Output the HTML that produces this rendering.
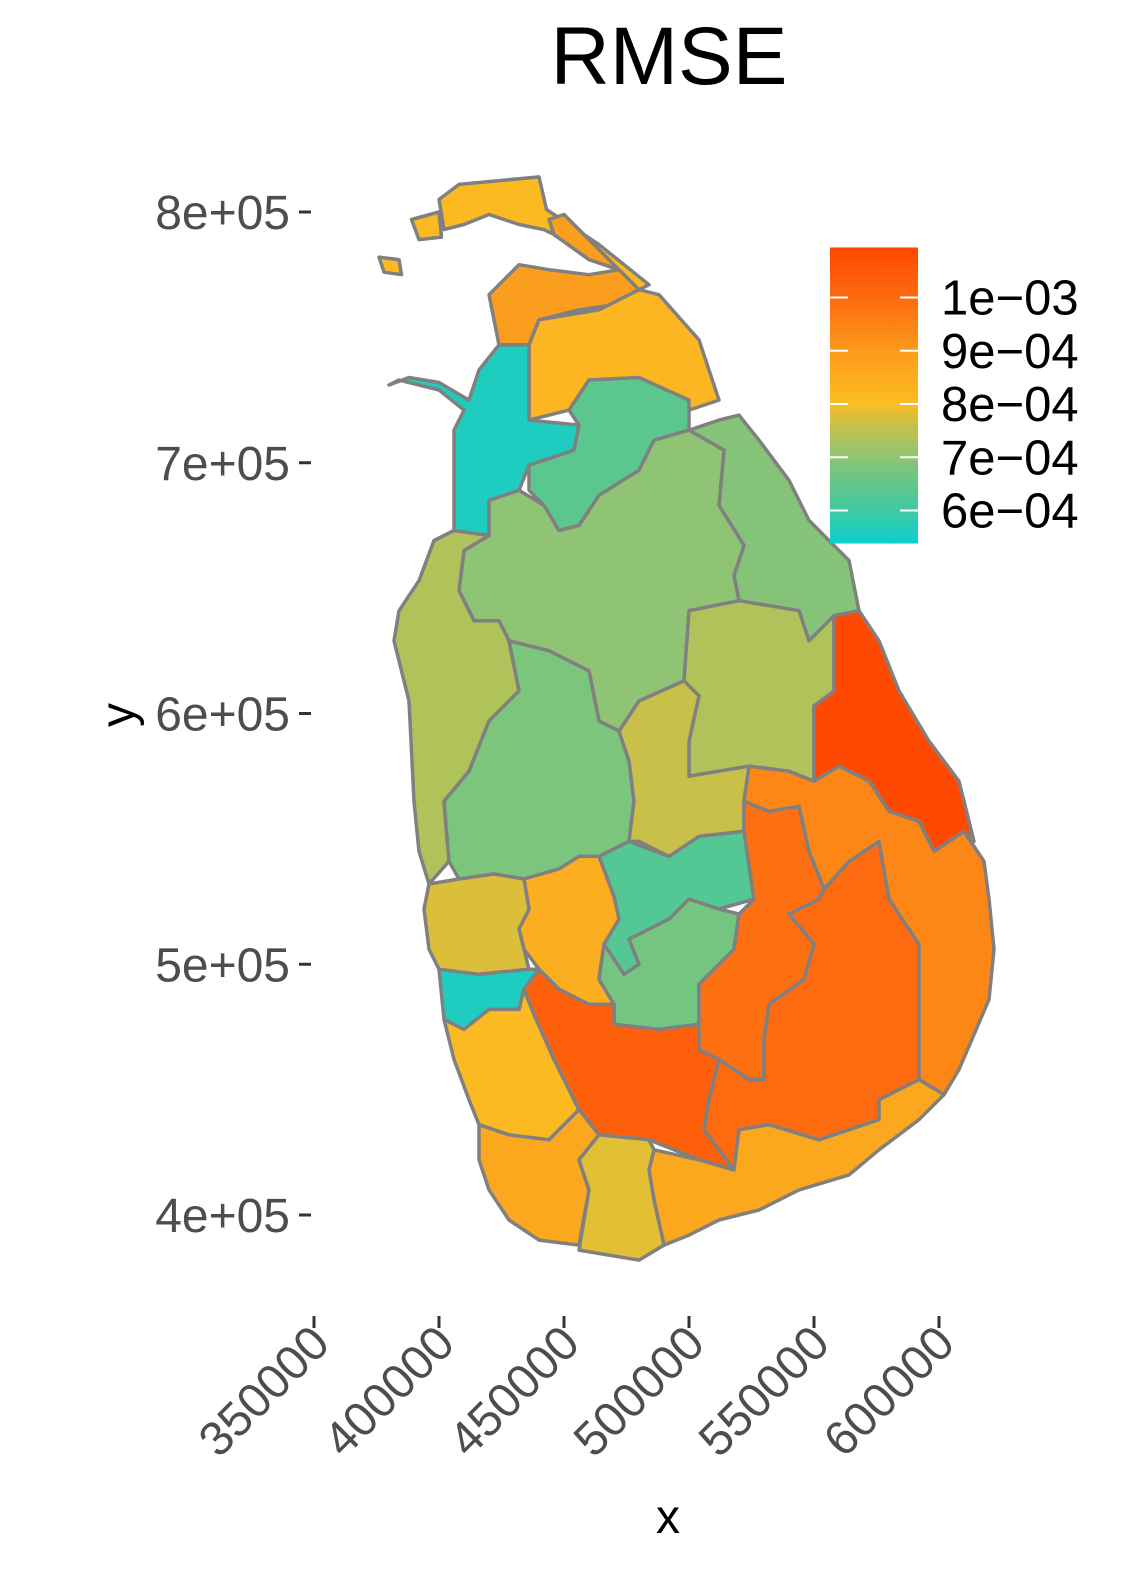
<!DOCTYPE html>
<html><head><meta charset="utf-8"><style>
html,body{margin:0;padding:0;background:#fff;}
svg{display:block;font-family:"Liberation Sans",Arial,sans-serif;}
</style></head><body>
<svg id="chart" width="1125" height="1575" viewBox="0 0 1125 1575" xmlns="http://www.w3.org/2000/svg">
<defs>
<linearGradient id="lg" x1="0" y1="1" x2="0" y2="0">
<stop id="s0" offset="0" stop-color="#0ccfcf"/>
</linearGradient>
</defs>
<text x="669" y="84" font-size="82" text-anchor="middle" fill="#000">RMSE</text>
<g id="map"></g>
<g id="yaxis"></g>
<g id="xaxis"></g>
<text x="0" y="0" font-size="48" text-anchor="middle" transform="translate(134,715) rotate(-90)" fill="#000">y</text>
<text x="668" y="1533" font-size="48" text-anchor="middle" fill="#000">x</text>
<g id="legend"></g>
</svg>
<script>
// district names
const districts = ["Jaffna","Kilinochchi","Mullaitivu","Mannar","Vavuniya","Trincomalee","Anuradhapura","Polonnaruwa","Batticaloa","Puttalam","Kurunegala","Matale","Kandy","Kegalle","Gampaha","Colombo","NuwaraEliya","Kalutara","Ratnapura","Badulla","Monaragala","Ampara","Hambantota","Galle","Matara","JaffnaIslandA","JaffnaIslandB","KilinochchiLagoon"];
// RMSE values (x 1e-4)
const rmse = [8.1,8.9,8.2,5.6,6.4,6.9,7.0,7.35,10.9,7.35,6.8,7.6,6.3,8.4,7.75,5.6,6.7,8.1,10.3,9.9,10.0,9.4,8.6,8.6,7.8,8.1,8.1,8.9];
// boundaries in km (easting,northing)
const shapes = [
"400,805 408,811 440,814 443,801 464,787 484,771 480,769 472,777 460,781 446,791 442,793 432,795 420,799 410,795 402,793",
"420,767 432,779 444,777 460,775 472,777 480,769 470,763 456,761 440,757 436,747 424,747",
"436,747 440,757 464,761 480,769 488,767 504,749 512,725 500,721 488,725 480,733 460,733 452,721 436,717",
"424,747 436,747 436,717 456,715 454,705 436,699 432,689 420,685 420,671 406,673 406,713 410,721 400,729 384,733 380,731 388,734 400,732 412,725 416,737",
"460,733 480,734 500,725 500,713 486,709 480,697 464,687 456,675 448,673 442,683 436,689 436,699 454,705 456,715 452,721",
"500,713 512,717 520,719 528,709 540,693 548,677 556,669 564,661 568,641 558,639 548,629 544,641 520,645 518,655 522,667 512,683 514,705",
"420,685 432,689 442,683 448,673 456,675 464,687 480,697 486,709 500,713 514,705 512,683 522,667 518,655 520,645 500,641 498,613 480,605 472,593 464,597 460,617 444,625 428,629 424,637 414,637 408,649 410,665 420,671",
"500,641 520,645 544,641 548,629 558,639 558,609 550,603 550,573 540,577 524,579 512,577 500,575 500,589 504,607 498,613",
"558,639 568,641 576,629 584,609 596,589 608,573 614,549 610,553 598,545 592,557 580,561 572,573 560,579 550,573 550,603 558,609",
"406,673 420,671 410,665 408,649 414,637 424,637 428,629 432,609 420,597 412,577 402,565 404,541 396,532 392,545 390,565 388,605 382,629 384,641 392,653 398,669",
"428,629 444,625 460,617 464,597 472,593 476,581 478,565 476,549 464,543 456,543 448,538 434,534 422,536 408,534 404,541 402,565 412,577 420,597 432,609",
"472,593 480,605 498,613 504,607 500,589 500,575 524,579 522,565 522,553 504,551 492,543 480,549 476,549 478,565 476,581",
"464,543 476,549 492,543 504,551 522,553 526,526 512,522 500,526 492,518 476,510 480,500 474,496 466,508 472,518 470,527",
"434,534 448,538 456,543 464,543 470,527 472,518 466,508 464,494 470,484 460,484 448,490 440,498 434,506 432,514 436,522",
"396,532 408,534 422,536 434,534 436,522 432,514 434,506 436,498 416,496 400,498 396,506 394,522",
"400,498 416,496 436,498 440,498 434,490 432,482 420,482 410,474 402,478",
"466,508 474,496 480,500 476,510 492,518 500,526 512,522 520,520 518,506 504,492 504,476 488,474 470,476 470,484 464,494",
"402,478 410,474 420,482 432,482 434,490 438,480 446,462 456,442 448,434 444,430 428,432 416,436 412,446 406,462",
"434,490 440,498 448,490 460,484 470,484 470,476 488,474 504,476 504,466 512,462 508,446 506,434 518,418 504,422 484,430 464,432 456,442 446,462 438,480",
"520,520 526,526 522,553 522,565 532,561 544,563 548,545 554,530 552,526 540,520 550,508 546,494 532,484 530,470 530,454 524,454 512,462 504,466 504,476 504,492 518,506",
"554,530 564,541 576,549 580,526 592,508 592,454 576,446 576,438 552,430 532,436 520,434 518,418 506,434 508,446 512,462 524,454 530,454 530,470 532,484 546,494 550,508 540,520 552,526",
"524,579 540,577 550,573 560,579 572,573 580,561 592,557 598,545 610,553 618,541 620,526 622,506 620,486 608,458 602,448 592,454 592,508 580,526 576,549 564,541 554,530 548,545 544,563 532,561 522,565",
"486,426 504,422 518,418 520,434 532,436 552,430 576,438 576,446 592,454 602,448 592,438 576,426 564,416 544,410 528,402 512,398 500,392 490,388 486,406 484,418",
"416,436 428,432 444,430 448,434 456,442 464,432 456,422 460,410 456,388 440,390 428,398 420,410 416,422",
"464,432 484,430 486,426 484,418 486,406 490,388 480,382 468,384 456,386 460,410 456,422",
"376,782 384,781 385,775 378,776",
"389,797 400,800 401,790 392,789",
"444,797 450,799 464,785 472,777 460,781 446,791"
];
// axis ticks
const yTicks = [400000,500000,600000,700000,800000];
const yTickLabels = ["4e+05","5e+05","6e+05","7e+05","8e+05"];
const xTicks = [350000,400000,450000,500000,550000,600000];
const xTickLabels = ["350000","400000","450000","500000","550000","600000"];
const legendTicks = [6,7,8,9,10];
const legendLabels = ["6e\u221204","7e\u221204","8e\u221204","9e\u221204","1e\u221203"];
const colorStopValues = [5.38,6.0,6.5,7.0,7.6,8.0,9.0,10.0,10.94];
const colorStopColors = ["#0ccfcf","#3fcaa2","#62c68a","#8ec473","#c8c048","#fbbd22","#fc9a1c","#fd6a10","#ff4800"];

const NS="http://www.w3.org/2000/svg";
const X = v => 314 + (v-350000)/100000*250;
const Y = v => 212 + (800000-v)/100000*250.75;
const LY = v => 297.5 + (10-v)*53.25;
function hex(c){return [1,3,5].map(i=>parseInt(c.substr(i,2),16));}
function color(v){
  const s=colorStopValues;
  if(v<=s[0])return colorStopColors[0];
  for(let i=1;i<s.length;i++){ if(v<=s[i]){const t=(v-s[i-1])/(s[i]-s[i-1]);const a=hex(colorStopColors[i-1]),b=hex(colorStopColors[i]);return "rgb("+a.map((x,k)=>Math.round(x+(b[k]-x)*t)).join(",")+")";}}
  return colorStopColors[colorStopColors.length-1];
}
const map=document.getElementById('map');
shapes.forEach((s,i)=>{
  const pts=s.split(" ").map(p=>{const [a,b]=p.split(",").map(Number);return X(a*1000).toFixed(1)+","+Y(b*1000).toFixed(1);}).join(" ");
  const el=document.createElementNS(NS,'polygon');
  el.setAttribute('points',pts);
  el.setAttribute('fill',color(rmse[i]));
  el.setAttribute('stroke','#808080');
  el.setAttribute('stroke-width','3.5');
  el.setAttribute('stroke-linejoin','round');
  
  
  map.appendChild(el);
});
const ya=document.getElementById('yaxis');
yTicks.forEach((v,i)=>{
  const l=document.createElementNS(NS,'line');
  l.setAttribute('x1',299);l.setAttribute('x2',311);l.setAttribute('y1',Y(v));l.setAttribute('y2',Y(v));
  l.setAttribute('stroke','#333');l.setAttribute('stroke-width','3');
  
  
  ya.appendChild(l);
  const t=document.createElementNS(NS,'text');
  t.setAttribute('x',290);t.setAttribute('y',Y(v)+17);t.setAttribute('text-anchor','end');
  t.setAttribute('font-size','48');t.setAttribute('fill','#4d4d4d');
  t.textContent=yTickLabels[i];
  
  
  ya.appendChild(t);
});
const xa=document.getElementById('xaxis');
xTicks.forEach((v,i)=>{
  const l=document.createElementNS(NS,'line');
  l.setAttribute('x1',X(v));l.setAttribute('x2',X(v));l.setAttribute('y1',1316);l.setAttribute('y2',1328);
  l.setAttribute('stroke','#333');l.setAttribute('stroke-width','3');
  
  
  xa.appendChild(l);
  const t=document.createElementNS(NS,'text');
  t.setAttribute('text-anchor','end');t.setAttribute('font-size','48');t.setAttribute('fill','#4d4d4d');
  t.setAttribute('transform','translate('+(X(v)+18)+',1346) rotate(-45)');
  t.textContent=xTickLabels[i];
  
  
  xa.appendChild(t);
});
// legend gradient
const g=document.getElementById('lg');g.innerHTML='';
const vmin=colorStopValues[0],vmax=colorStopValues[colorStopValues.length-1];
colorStopValues.forEach((v,i)=>{const s=document.createElementNS(NS,'stop');s.setAttribute('offset',(v-vmin)/(vmax-vmin));s.setAttribute('stop-color',colorStopColors[i]);g.appendChild(s);});
const lg=document.getElementById('legend');
const r=document.createElementNS(NS,'rect');
r.setAttribute('x',830);r.setAttribute('y',LY(vmax));r.setAttribute('width',88);r.setAttribute('height',LY(vmin)-LY(vmax));
r.setAttribute('fill','url(#lg)');


lg.appendChild(r);
legendTicks.forEach((v,i)=>{
  [[830,848],[900,918]].forEach(([a,b])=>{
    const l=document.createElementNS(NS,'line');
    l.setAttribute('x1',a);l.setAttribute('x2',b);l.setAttribute('y1',LY(v));l.setAttribute('y2',LY(v));
    l.setAttribute('stroke','#fff');l.setAttribute('stroke-width','2');
    
    
    lg.appendChild(l);
  });
  const t=document.createElementNS(NS,'text');
  t.setAttribute('x',941);t.setAttribute('y',LY(v)+17);t.setAttribute('font-size','49');t.setAttribute('fill','#000');
  t.textContent=legendLabels[i];
  
  
  lg.appendChild(t);
});
</script>
</body></html>
